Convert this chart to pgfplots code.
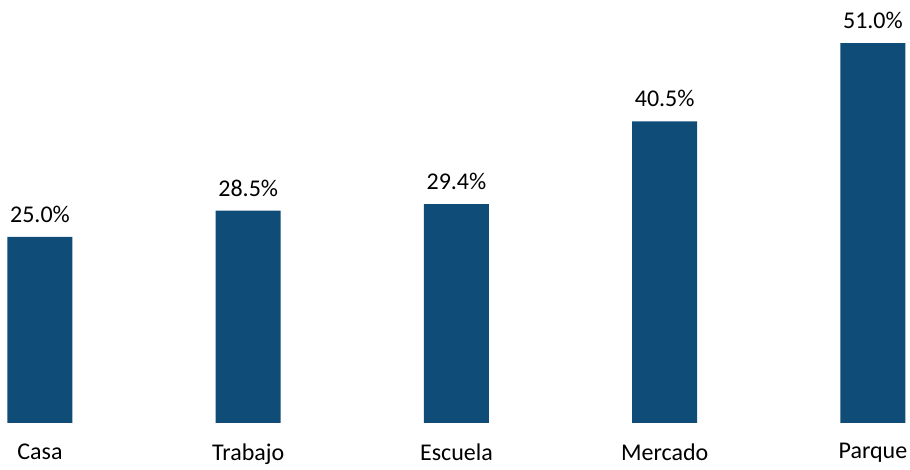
\documentclass[border=0pt]{standalone}
\usepackage{pgfplots}
\pgfplotsset{compat=1.18}
\usepackage{fontspec}
\setmainfont{Carlito}
\definecolor{barblue}{HTML}{0F4D78}
\begin{document}
\begin{tikzpicture}
\useasboundingbox (0,0) rectangle (910pt,470pt);
\begin{axis}[
  at={(0pt,47pt)}, anchor=south west,
  scale only axis, width=910pt, height=423pt,
  xmin=-0.192, xmax=4.178, ymin=0, ymax=56.8,
  ybar, bar width=65pt, bar shift=0pt,
  hide y axis,
  x axis line style={draw=none},
  major tick length=0pt,
  xtick=data,
  xticklabels={Casa,Trabajo,Escuela,Mercado,Parque},
  xticklabel style={font=\fontsize{24}{27}\selectfont, yshift=-17pt},
  nodes near coords={\pgfmathprintnumber[fixed,fixed zerofill,precision=1]{\pgfplotspointmeta}\%},
  nodes near coords style={font=\fontsize{24}{27}\selectfont, anchor=south, yshift=11pt, text=black},
  /pgf/number format/assume math mode=true,
  clip=false,
]
\addplot[fill=barblue, draw=none] coordinates {(0,25.0) (1,28.5) (2,29.4) (3,40.5) (4,51.0)};
\end{axis}
\end{tikzpicture}
\end{document}
